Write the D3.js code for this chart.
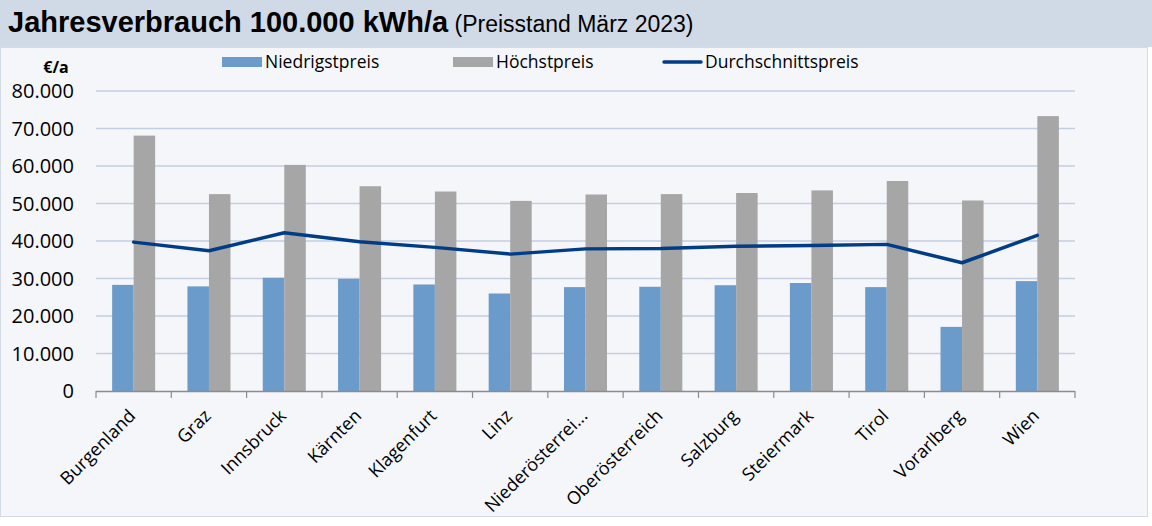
<!DOCTYPE html>
<html>
<head>
<meta charset="utf-8">
<script src="https://cdn.jsdelivr.net/npm/d3@7"></script>
<style>
  html, body { margin: 0; padding: 0; background: #ffffff; }
  svg { display: block; }
</style>
</head>
<body>
<div id="chart"></div>
<script>
var categories = ['Burgenland', 'Graz', 'Innsbruck', 'Kärnten', 'Klagenfurt', 'Linz',
  'Niederösterrei...', 'Oberösterreich', 'Salzburg', 'Steiermark', 'Tirol', 'Vorarlberg', 'Wien'];
var niedrigstpreis = [28300, 27900, 30200, 29900, 28400, 26000, 27700, 27800, 28200, 28800, 27700, 17100, 29300];
var hoechstpreis = [68100, 52500, 60300, 54600, 53200, 50700, 52400, 52500, 52800, 53500, 56000, 50800, 73300];
var durchschnittspreis = [39700, 37400, 42200, 39800, 38300, 36500, 37900, 38000, 38600, 38800, 39100, 34200, 41500];
var yTicks = [0, 10000, 20000, 30000, 40000, 50000, 60000, 70000, 80000];
var seriesNames = ['Niedrigstpreis', 'Höchstpreis', 'Durchschnittspreis'];

(function () {
  var width = 1152, height = 526;
  var blue = '#6b9bca', grey = '#a6a6a6', lineBlue = '#013d86';
  var gridColor = '#c5cee0', axisColor = '#8c8c8c';
  var font = '"Open Sans", sans-serif';

  var svg = d3.select('#chart').append('svg')
    .attr('width', width).attr('height', height);

  // panels
  svg.append('rect').attr('x', 0).attr('y', 0).attr('width', 1152).attr('height', 47).attr('fill', '#d0dae6');
  svg.append('rect').attr('x', 0.5).attr('y', 47.5).attr('width', 1147).attr('height', 469)
    .attr('fill', '#f4f6fa').attr('stroke', '#d3dbe7').attr('stroke-width', 1);

  // title
  var title = svg.append('text').attr('x', 8).attr('y', 32)
    .attr('font-family', '"Liberation Sans", Arial, sans-serif').attr('fill', '#000');
  title.append('tspan').attr('font-weight', 'bold').attr('font-size', 29).text('Jahresverbrauch 100.000 kWh/a');
  title.append('tspan').attr('font-size', 23).text(' (Preisstand März 2023)');

  var x = d3.scaleBand().domain(categories).range([96, 1075]).paddingInner(0).paddingOuter(0);
  var x1 = d3.scaleBand().domain([0, 1]).range([0, x.bandwidth()]).paddingOuter(0.75).paddingInner(0);
  var y = d3.scaleLinear().domain([0, 80000]).range([391, 91]);

  // gridlines
  svg.append('g').selectAll('line').data(yTicks.filter(function (d) { return d > 0; }))
    .join('line')
    .attr('x1', 96).attr('x2', 1075)
    .attr('y1', function (d) { return y(d); }).attr('y2', function (d) { return y(d); })
    .attr('stroke', gridColor).attr('stroke-width', 1.5);

  // y axis labels
  var fmt = function (d) { return d3.format(',')(d).replace(/,/g, '.'); };
  svg.append('g').selectAll('text').data(yTicks).join('text')
    .attr('x', 74).attr('y', function (d) { return y(d) + 7; })
    .attr('text-anchor', 'end')
    .attr('font-family', font).attr('font-size', 20).attr('fill', '#000')
    .text(fmt);

  svg.append('text').attr('x', 56).attr('y', 73).attr('text-anchor', 'middle')
    .attr('font-family', font).attr('font-weight', 'bold').attr('font-size', 16)
    .text('€/a');

  // bars
  var groups = svg.append('g').selectAll('g').data(categories).join('g')
    .attr('transform', function (d) { return 'translate(' + x(d) + ',0)'; });

  groups.append('rect')
    .attr('x', x1(0)).attr('width', x1.bandwidth())
    .attr('y', function (d, i) { return y(niedrigstpreis[i]); })
    .attr('height', function (d, i) { return y(0) - y(niedrigstpreis[i]); })
    .attr('fill', blue);

  groups.append('rect')
    .attr('x', x1(1)).attr('width', x1.bandwidth())
    .attr('y', function (d, i) { return y(hoechstpreis[i]); })
    .attr('height', function (d, i) { return y(0) - y(hoechstpreis[i]); })
    .attr('fill', grey);

  // axis line with ticks at category boundaries
  var xAxis = svg.append('g');
  xAxis.append('line').attr('x1', 96).attr('x2', 1075).attr('y1', 391.5).attr('y2', 391.5)
    .attr('stroke', axisColor).attr('stroke-width', 1.5);
  var bounds = categories.map(function (d) { return x(d); }).concat([1075]);
  xAxis.selectAll('line.tick').data(bounds).join('line').attr('class', 'tick')
    .attr('x1', function (d) { return d; }).attr('x2', function (d) { return d; })
    .attr('y1', 391).attr('y2', 398)
    .attr('stroke', axisColor).attr('stroke-width', 1.2);

  // category labels
  svg.append('g').selectAll('text').data(categories).join('text')
    .attr('text-anchor', 'end')
    .attr('font-family', font).attr('font-size', 18).attr('fill', '#000')
    .attr('transform', function (d) {
      return 'translate(' + (x(d) + x.bandwidth() / 2 + 3) + ',417) rotate(-45)';
    })
    .text(function (d) { return d; });

  // average line
  var line = d3.line()
    .x(function (d, i) { return x(categories[i]) + x.bandwidth() / 2; })
    .y(function (d) { return y(d); });
  svg.append('path').datum(durchschnittspreis)
    .attr('d', line).attr('fill', 'none')
    .attr('stroke', lineBlue).attr('stroke-width', 3.5)
    .attr('stroke-linecap', 'round').attr('stroke-linejoin', 'round');

  // legend
  var legendX = [222, 453, 662];
  var legend = svg.append('g').selectAll('g').data(seriesNames).join('g')
    .attr('transform', function (d, i) { return 'translate(' + legendX[i] + ',62)'; });
  legend.each(function (d, i) {
    var g = d3.select(this);
    if (i < 2) {
      g.append('rect').attr('x', 0).attr('y', -5).attr('width', 40).attr('height', 10)
        .attr('fill', i === 0 ? blue : grey);
    } else {
      g.append('line').attr('x1', 2).attr('x2', 39).attr('y1', 0).attr('y2', 0)
        .attr('stroke', lineBlue).attr('stroke-width', 3.5).attr('stroke-linecap', 'round');
    }
    g.append('text').attr('x', 43).attr('y', 6)
      .attr('font-family', font).attr('font-size', 17.5).attr('fill', '#000')
      .text(d);
  });
})();
</script>
</body>
</html>
